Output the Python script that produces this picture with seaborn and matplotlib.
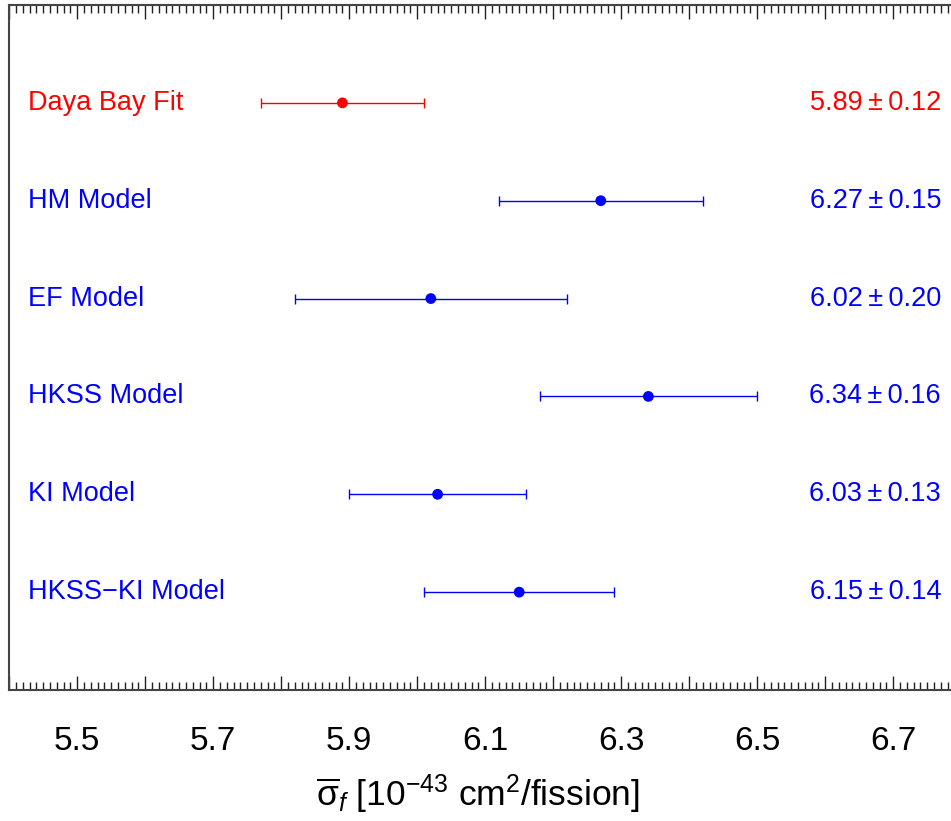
import numpy as np
import pandas as pd
import matplotlib
matplotlib.use("Agg")
import matplotlib.pyplot as plt
from matplotlib.ticker import MultipleLocator, FuncFormatter
import seaborn as sns

# data
models = ["Daya Bay Fit", "HM Model", "EF Model", "HKSS Model", "KI Model", "HKSS\u2212KI Model"]
sigma = [5.89, 6.27, 6.02, 6.34, 6.03, 6.15]
sigma_err = [0.12, 0.15, 0.20, 0.16, 0.13, 0.14]
colors = ["red", "blue", "blue", "blue", "blue", "blue"]

df = pd.DataFrame({"model": models, "sigma": sigma, "err": sigma_err, "color": colors})
df["row"] = np.arange(1, len(df) + 1)

sns.set_theme(style="ticks")
plt.rcParams["font.family"] = ["Liberation Sans", "DejaVu Sans"]
plt.rcParams["mathtext.fontset"] = "custom"
plt.rcParams["mathtext.rm"] = "Liberation Sans"
plt.rcParams["mathtext.it"] = "Liberation Sans:italic"

W, H = 951, 821
fig = plt.figure(figsize=(W / 100, H / 100), dpi=100)
# the frame runs past the right edge of the picture (x range 5.4 - 6.8)
ax_left, ax_w = 9.3, 951.8
ax = fig.add_axes([ax_left / W, 1 - 690 / H, ax_w / W, 685 / H])

# error bars
for _, r in df.iterrows():
    ax.errorbar(r["sigma"], r["row"], xerr=r["err"], fmt="none", ecolor=r["color"],
                elinewidth=1.0, capsize=3.5, capthick=1.0)

# central values
sns.scatterplot(data=df, x="sigma", y="row", hue="model",
                palette=dict(zip(df["model"], df["color"])),
                s=60, edgecolor="none", legend=False, ax=ax, zorder=3)

# labels left and values right
for _, r in df.iterrows():
    ax.text((28 - ax_left) / ax_w, r["row"], r["model"], transform=ax.get_yaxis_transform(),
            color=r["color"], fontsize=19.5, va="center", ha="left")
    ax.text((941 - ax_left) / ax_w, r["row"], f"{r['sigma']:.2f}\u2009\u00b1\u2009{r['err']:.2f}",
            transform=ax.get_yaxis_transform(),
            color=r["color"], fontsize=19.5, va="center", ha="right")

ax.set_xlim(5.4, 6.8)
ax.set_ylim(7, 0)
ax.set_yticks([])
ax.set_ylabel("")

ax.xaxis.set_major_locator(MultipleLocator(0.1))
ax.xaxis.set_minor_locator(MultipleLocator(0.01))
ax.xaxis.set_major_formatter(FuncFormatter(
    lambda v, p: f"{v:.1f}" if int(round(v * 10)) % 2 == 1 else ""))
ax.tick_params(axis="x", which="both", direction="in", top=True, bottom=True,
               color="#222222", width=1.0)
ax.tick_params(axis="x", which="major", length=10, pad=26, labelsize=24, labelcolor="black")
ax.tick_params(axis="x", which="minor", length=5.5)

for side in ["left", "top", "bottom"]:
    ax.spines[side].set_color("#444444")
    ax.spines[side].set_linewidth(1.5)
ax.spines["right"].set_visible(False)

ax.set_xlabel(r"$\overline{\mathrm{\sigma}}_{f}$ [10$^{-43}$ cm$^{2}$/fission]",
              fontsize=25.5, color="black")
ax.xaxis.set_label_coords((478 - ax_left) / ax_w, -0.12)

fig.savefig("out.png", dpi=100)
